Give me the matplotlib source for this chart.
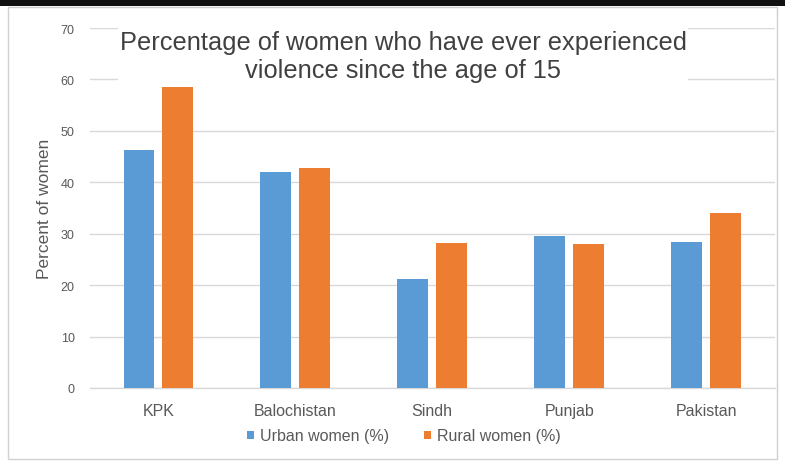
import matplotlib
matplotlib.use("Agg")
import matplotlib.pyplot as plt
import numpy as np
from matplotlib.patches import Rectangle

plt.rcParams["font.family"] = ["Liberation Sans", "DejaVu Sans"]

categories = ["KPK", "Balochistan", "Sindh", "Punjab", "Pakistan"]
urban = [46.3, 42.0, 21.2, 29.6, 28.4]
rural = [58.6, 42.8, 28.2, 28.0, 34.0]
series_names = ["Urban women (%)", "Rural women (%)"]
yticks = [0, 10, 20, 30, 40, 50, 60, 70]

blue = "#5B9BD5"
orange = "#ED7D31"
grey_text = "#595959"

fig = plt.figure(figsize=(7.85, 4.64), dpi=100)
ax = fig.add_axes([90/785, 1-389/464, (774.5-90)/785, (389-29)/464])

x = np.arange(len(categories))
w = 0.226
gap = 0.058
ax.bar(x - (w+gap)/2, urban, width=w, color=blue, label=series_names[0], zorder=3)
ax.bar(x + (w+gap)/2, rural, width=w, color=orange, label=series_names[1], zorder=3)

ax.set_xlim(-0.5, len(categories)-0.5)
ax.set_ylim(0, 70)
ax.set_yticks(yticks)
ax.set_yticklabels([str(t) for t in yticks])
ax.set_xticks(x)
ax.set_xticklabels(categories)
ax.tick_params(axis="both", length=0, colors=grey_text)
ax.tick_params(axis="x", pad=11, labelsize=11.5)
ax.tick_params(axis="y", pad=11, labelsize=9)
ax.grid(axis="y", color="#D9D9D9", linewidth=1, zorder=0)
ax.axhline(0, color="#D9D9D9", linewidth=1, zorder=1, clip_on=False)
for s in ax.spines.values():
    s.set_visible(False)
ax.set_ylabel("Percent of women", color=grey_text, fontsize=12.5, labelpad=6)

fig.text(403/785, 1-57/464, "Percentage of women who have ever experienced\nviolence since the age of 15",
         ha="center", va="center", fontsize=18.3, color="#404040", linespacing=1.25,
         bbox=dict(facecolor="white", edgecolor="none", pad=1), zorder=5)

leg = fig.legend(loc="center", bbox_to_anchor=(404/785, 1-437/464), ncol=2, frameon=False,
                 fontsize=11.5, handlelength=0.4, handleheight=0.4, handletextpad=0.4,
                 columnspacing=2.2)
for t in leg.get_texts():
    t.set_color(grey_text)

# screenshot frame
fig.patches.append(Rectangle((0, 1-7/464), 1, 7/464, transform=fig.transFigure,
                             facecolor="#111111", edgecolor="none", zorder=10))
fig.patches.append(Rectangle((8/785, 1-460/464), 1-16/785, 452/464, transform=fig.transFigure,
                             facecolor="none", edgecolor="#D0D0D0", linewidth=1, zorder=10))

fig.savefig("out.png", dpi=100)
